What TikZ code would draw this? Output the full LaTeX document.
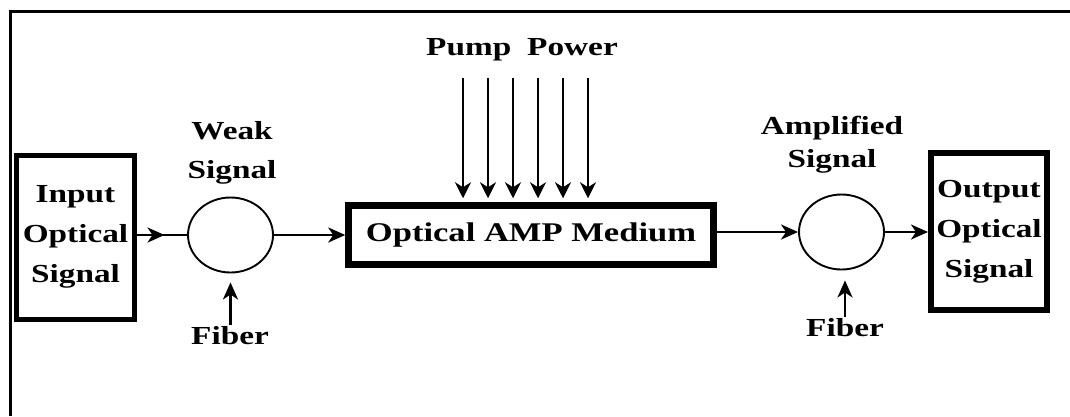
\documentclass[tikz,border=0pt]{standalone}
\usepackage{fontspec}
\setmainfont[FakeStretch=1.28]{Liberation Serif}
\usetikzlibrary{arrows.meta,decorations.markings,shapes.geometric}
\begin{document}
\begin{tikzpicture}[x=1pt,y=-1pt,
  lbl/.style={font=\bfseries\fontsize{26}{39}\selectfont, align=center, inner sep=0pt},
  endbox/.style={draw, line width=5pt, inner sep=0pt, minimum width=118pt, minimum height=164pt,
     font=\bfseries\fontsize{26}{40}\selectfont, align=center},
  ampbox/.style={draw, line width=6.5pt, inner sep=0pt, minimum width=365pt, minimum height=59pt,
     font=\bfseries\fontsize{27}{32}\selectfont},
  fib/.style={draw, ellipse, line width=1.9pt, inner sep=0pt, minimum width=85pt, minimum height=75pt},
  arr/.style={line width=2.7pt, -{Stealth[length=17pt,width=15pt,inset=5pt]}},
  pump/.style={line width=2.2pt, -{Stealth[length=16pt,width=16pt,inset=5pt]}},
  midarr/.style={line width=2.7pt, postaction={decorate}, decoration={markings,
     mark=at position 0.55 with {\arrow{Stealth[length=17pt,width=15pt,inset=5pt]}}}}
]
\fill[white] (0,0) rectangle (1070,416);
\useasboundingbox (0,0) rectangle (1070,416);
\draw[line width=3pt] (1070,11) -- (10,11) -- (10,416);

\node[endbox] (in) at (75.5,237) {Input\\Optical\\Signal};
\node[fib] (c1) at (230.5,235) {};
\node[lbl] (weak) at (232,153) {Weak\\Signal};
\node[lbl] (f1) at (230,336) {Fiber};
\node[ampbox] (amp) at (531,235) {Optical AMP Medium};
\node[lbl] (pp) at (522,50) {Pump\hspace{16pt}Power};
\node[fib] (c2) at (841.5,232) {};
\node[lbl] (amps) at (832,145) {Amplified\\[-6pt]Signal};
\node[lbl] (f2) at (845,328) {Fiber};
\node[endbox, line width=6pt, minimum width=116pt, minimum height=157pt] (out) at (989,231.5) {Output\\Optical\\Signal};

\draw[midarr] (c1.west -| in.east) -- (c1.west);
\draw[arr] (c1.east) -- (amp.west);
\draw[arr] (amp.east |- c2.west) -- (c2.west);
\draw[arr] (c2.east) -- (c2.east -| out.west);
\draw[arr, shorten >=9pt, shorten <=2pt] (f1.north -| c1.south) -- (c1.south);
\draw[arr, shorten >=10pt, shorten <=2pt] (f2.north) -- (f2.north |- c2.south);

\foreach \i in {0,...,5} {
  \coordinate (p\i) at (463+25*\i,78);
  \draw[pump, shorten >=4pt] (p\i) -- (p\i |- amp.north);
}
\end{tikzpicture}
\end{document}
